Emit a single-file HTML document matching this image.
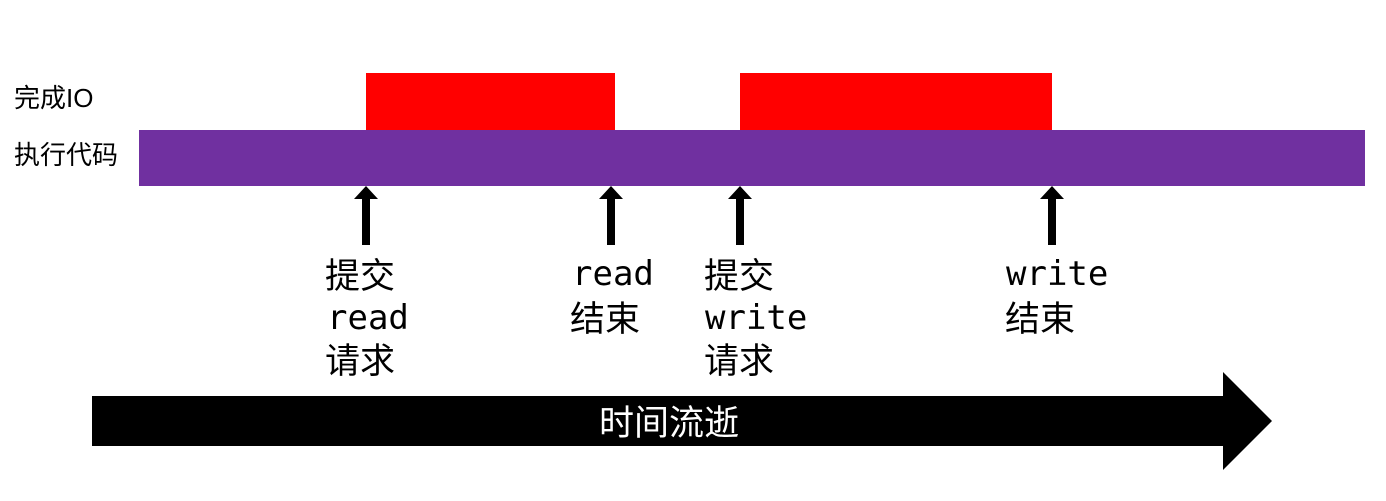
<!DOCTYPE html>
<html><head><meta charset="utf-8"><style>
html,body{margin:0;padding:0;background:#fff;width:1386px;height:501px;overflow:hidden}
text{font-family:"DejaVu Sans Mono","Noto Sans CJK SC",monospace;font-size:34px;fill:#000}
.c{font-family:"Noto Sans CJK SC",sans-serif;font-size:35px}
.l{font-family:"Liberation Sans","Noto Sans CJK SC",sans-serif;font-size:26px}
</style></head><body>
<svg width="1386" height="501" xmlns="http://www.w3.org/2000/svg">
<rect x="366" y="73" width="249" height="58" fill="#ff0000"/>
<rect x="740" y="73" width="312" height="58" fill="#ff0000"/>
<rect x="139" y="130" width="1226" height="56" fill="#7030a0"/>
<text class="l" x="14" y="107">完成IO</text>
<text class="l" x="14" y="164">执行代码</text>
<g fill="#000">
<polygon points="366,186 378,199 370,199 370,245 362,245 362,199 354,199"/>
<polygon points="611,186 623,199 615,199 615,245 607,245 607,199 599,199"/>
<polygon points="740,186 752,199 744,199 744,245 736,245 736,199 728,199"/>
<polygon points="1052,186 1064,199 1056,199 1056,245 1048,245 1048,199 1040,199"/>
<polygon points="92,396 1223,396 1223,372 1272,421 1223,470 1223,446 92,446"/>
</g>
<text class="c" x="325" y="288">提交</text>
<text x="327" y="329">read</text>
<text class="c" x="325" y="373">请求</text>
<text x="572" y="285">read</text>
<text class="c" x="570" y="331">结束</text>
<text class="c" x="704" y="288">提交</text>
<text x="705" y="329">write</text>
<text class="c" x="704" y="373">请求</text>
<text x="1006" y="285">write</text>
<text class="c" x="1005" y="331">结束</text>
<text x="669" y="435" text-anchor="middle" style="fill:#fff;font-family:'Noto Sans CJK SC',sans-serif;font-size:35px">时间流逝</text>
</svg>
</body></html>
